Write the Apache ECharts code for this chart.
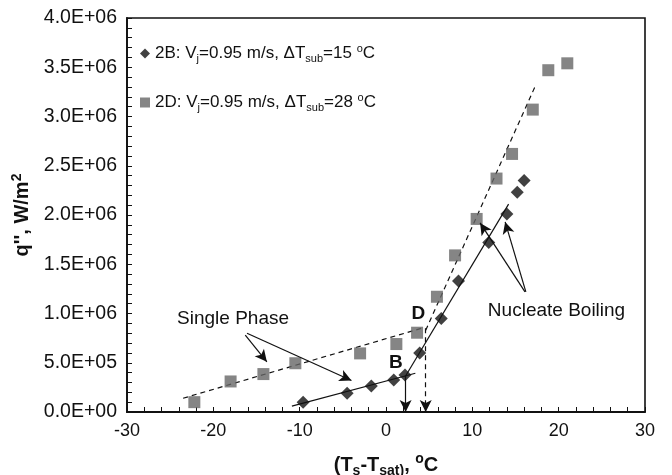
<!DOCTYPE html>
<html>
<head>
<meta charset="utf-8">
<script src="https://cdn.jsdelivr.net/npm/echarts@6/dist/echarts.min.js"></script>
<style>
  html,body{margin:0;padding:0;background:#fff;}
  #main{width:672px;height:475px;}
</style>
</head>
<body>
<div id="main"></div>
<script>
// 2B: Vj=0.95 m/s, dTsub=15 C  (x = Ts-Tsat, y = q'')
var x2B = [-9.6, -4.5, -1.7, 0.9, 2.2, 3.9, 6.4, 8.4, 11.9, 14.0, 15.2, 16.0];
var y2B = [1.0e5, 1.9e5, 2.65e5, 3.25e5, 3.75e5, 6.0e5, 9.5e5, 1.33e6, 1.72e6, 2.01e6, 2.23e6, 2.35e6];
// 2D: Vj=0.95 m/s, dTsub=28 C
var x2D = [-22.2, -18.0, -14.2, -10.5, -3.0, 1.2, 3.6, 5.9, 8.0, 10.5, 12.8, 14.6, 17.0, 18.8, 21.0];
var y2D = [1.0e5, 3.1e5, 3.85e5, 4.95e5, 5.95e5, 6.9e5, 8.05e5, 1.17e6, 1.59e6, 1.96e6, 2.37e6, 2.62e6, 3.07e6, 3.47e6, 3.54e6];

// trend lines (end points)
var fit2B_single = [[-10.9, 0.6e5], [3.4, 3.93e5]];
var fit2B_boil = [[2.2, 3.55e5], [14.2, 2.11e6]];
var fit2D_single = [[-23.5, 1.4e5], [4.5, 8.6e5]];
var fit2D_boil = [[4.6, 8.3e5], [17.4, 3.33e6]];

// annotation arrows [from, to]
var arrowsSolid = [
  [[-16.3, 7.8e5], [-13.8, 5.1e5]],
  [[-16.1, 8.0e5], [-4.0, 3.2e5]],
  [[16.1, 1.22e6], [10.9, 1.92e6]],
  [[16.2, 1.22e6], [13.8, 1.93e6]],
  [[2.27, 3.7e5], [2.27, 0]]
];
var arrowsDashed = [
  [[4.6, 8.5e5], [4.6, 0]]
];

// text annotations [text, x, y, bold]
var notes = [
  ['Single Phase', -24.2, 9.45e5, false],
  ['Nucleate Boiling', 11.8, 1.025e6, false],
  ['B', 0.35, 5.0e5, true],
  ['D', 2.95, 9.95e5, true]
];

var xTicks = [-30, -20, -10, 0, 10, 20, 30];
var yMax = 4.0e6, yStep = 5.0e5;

var FONT = 'Liberation Sans, Arial, sans-serif';

function zip(xs, ys){
  var out = [];
  for (var i = 0; i < xs.length; i++) out.push([xs[i], ys[i]]);
  return out;
}
function sciFmt(v){
  var s = v.toExponential(1).toUpperCase();   // 4.0E+6
  var p = s.split('E');
  var e = parseInt(p[1], 10);
  var sign = e < 0 ? '-' : '+';
  e = Math.abs(e);
  return p[0] + 'E' + sign + (e < 10 ? '0' + e : e);
}
function fitLine(name, pts, dashed){
  return {
    name: name, type: 'line', data: pts, symbol: 'none', silent: true,
    lineStyle: {color: '#111', width: 1.2, type: dashed ? [5, 4] : 'solid'},
    z: 1
  };
}
function arrowData(list, dashed){
  return list.map(function(a){
    return [
      {coord: a[0], lineStyle: {type: dashed ? [5, 4] : 'solid', color: '#111', width: 1.2}},
      {coord: a[1]}
    ];
  });
}

var rich = {
  sub: {fontSize: 11, fontFamily: FONT, padding: [10, 0, 0, 0], color: '#111'},
  sup: {fontSize: 11, fontFamily: FONT, padding: [0, 0, 10, 0], color: '#111'}
};
var richBold = {
  sub: {fontSize: 14, fontWeight: 'bold', fontFamily: FONT, padding: [12, 0, 0, 0], color: '#111'},
  sup: {fontSize: 14, fontWeight: 'bold', fontFamily: FONT, padding: [0, 0, 12, 0], color: '#111'}
};

var chart = echarts.init(document.getElementById('main'), null, {renderer: 'canvas'});

var option = {
  animation: false,
  backgroundColor: '#fff',
  textStyle: {fontFamily: FONT},
  grid: {
    left: 127, right: 27, top: 18, bottom: 63, containLabel: false, outerBoundsMode: 'none',
    show: true, borderColor: '#111', borderWidth: 1.6
  },
  legend: {
    orient: 'vertical', left: 140, top: 43, itemGap: 28, padding: 0,
    itemWidth: 10, itemHeight: 10,
    data: [{name: '2B', icon: 'diamond'}, {name: '2D', icon: 'rect'}],
    formatter: function(n){
      if (n === '2B') return '2B: V{sub|j}=0.95 m/s, \u0394T{sub|sub}=15 {sup|o}C';
      return '2D: V{sub|j}=0.95 m/s, \u0394T{sub|sub}=28 {sup|o}C';
    },
    textStyle: {fontSize: 17, color: '#111', fontFamily: FONT, rich: rich}
  },
  xAxis: {
    type: 'value', min: xTicks[0], max: xTicks[xTicks.length - 1], interval: 10,
    name: '(T{sub|s}-T{sub|sat)}, {sup|o}C', nameLocation: 'middle', nameGap: 40,
    nameTextStyle: {fontSize: 20, fontWeight: 'bold', color: '#111', fontFamily: FONT, rich: richBold},
    axisLine: {onZero: false, lineStyle: {color: '#111', width: 1.8}},
    axisTick: {inside: true, length: 5, lineStyle: {color: '#111'}},
    minorTick: {show: true, splitNumber: 5, length: 5, lineStyle: {color: '#111'}},
    axisLabel: {fontSize: 18, color: '#111', margin: 10, fontFamily: FONT},
    splitLine: {show: false}
  },
  yAxis: {
    type: 'value', min: 0, max: yMax, interval: yStep,
    name: "q'', W/m{sup|2}", nameLocation: 'middle', nameGap: 86, nameRotate: 90,
    nameTextStyle: {fontSize: 20, fontWeight: 'bold', color: '#111', fontFamily: FONT, rich: richBold},
    axisLine: {onZero: false, lineStyle: {color: '#111', width: 1.8}},
    axisTick: {inside: true, length: 5, lineStyle: {color: '#111'}},
    minorTick: {show: true, splitNumber: 5, length: 5, lineStyle: {color: '#111'}},
    axisLabel: {fontSize: 19.5, color: '#111', margin: 10, fontFamily: FONT, formatter: sciFmt},
    splitLine: {show: false}
  },
  series: [
    fitLine('fitA', fit2B_single, false),
    fitLine('fitB', fit2B_boil, false),
    fitLine('fitC', fit2D_single, true),
    fitLine('fitD', fit2D_boil, true),
    {
      name: 'arrows', type: 'line', data: [], silent: true,
      markLine: {
        silent: true, symbol: ['none', 'arrow'], symbolSize: [9, 12],
        label: {show: false},
        data: arrowData(arrowsSolid, false).concat(arrowData(arrowsDashed, true))
      }
    },
    {
      name: '2D', type: 'scatter', symbol: 'rect', symbolSize: 12,
      itemStyle: {color: '#666'}, data: zip(x2D, y2D), z: 3
    },
    {
      name: '2B', type: 'scatter', symbol: 'diamond', symbolSize: 13,
      itemStyle: {color: '#111'}, data: zip(x2B, y2B), z: 4
    }
  ]
};
chart.setOption(option);

// place the text notes from data coordinates
var graphics = notes.map(function(n){
  var p = chart.convertToPixel({gridIndex: 0}, [n[1], n[2]]);
  return {
    type: 'text', x: p[0], y: p[1],
    style: {
      text: n[0], fill: '#111',
      font: (n[3] ? 'bold 19px ' : '19px ') + FONT,
      textAlign: 'left', textVerticalAlign: 'middle'
    }
  };
});
chart.setOption({graphic: graphics});
</script>
</body>
</html>
